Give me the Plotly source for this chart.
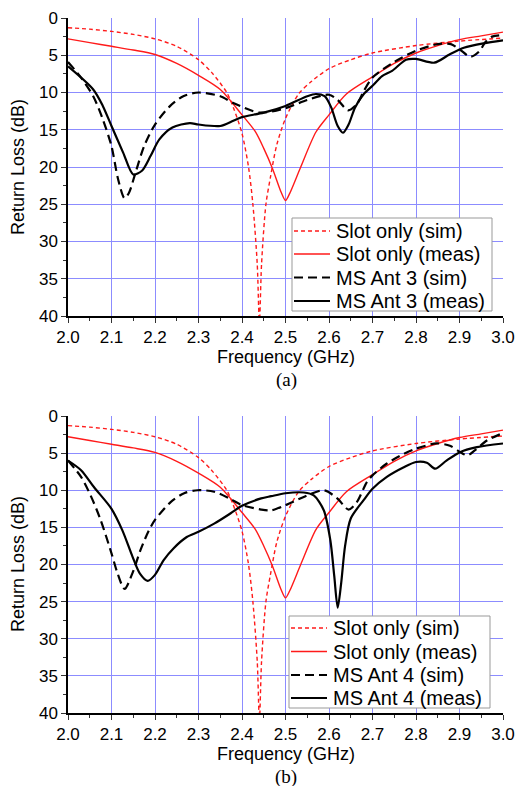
import plotly.graph_objects as go

# slot only curves (same in both panels)
f_slot_sim = [2.0, 2.05, 2.1, 2.15, 2.2, 2.25, 2.3, 2.33, 2.365, 2.38, 2.4, 2.415, 2.425, 2.435, 2.44,
              2.445, 2.455, 2.465, 2.48, 2.5, 2.53, 2.56, 2.6, 2.65, 2.7, 2.8, 2.9, 3.0]
rl_slot_sim = [1.3, 1.5, 1.8, 2.2, 2.8, 3.8, 5.6, 7.3, 10.0, 12.0, 15.5, 20, 25, 33, 41,
               33, 25, 21.5, 17, 13.5, 10.2, 8.5, 6.8, 5.6, 4.7, 3.7, 3.1, 2.7]

f_slot_meas = [2.0, 2.05, 2.1, 2.15, 2.2, 2.25, 2.3, 2.35, 2.4, 2.43, 2.45, 2.47, 2.49, 2.5, 2.51,
               2.535, 2.57, 2.6, 2.64, 2.7, 2.75, 2.8, 2.85, 2.9, 2.95, 3.0]
rl_slot_meas = [2.8, 3.3, 3.8, 4.3, 4.9, 6.1, 7.7, 9.6, 13.0, 15.2, 17.5, 20.2, 23.4, 24.5, 23.5,
                20, 15.3, 13.0, 10.2, 7.9, 6.1, 4.7, 3.7, 2.9, 2.4, 1.9]

# MS Ant 3
f_ant3_sim = [2.0, 2.03, 2.058, 2.08, 2.1, 2.115, 2.13, 2.14, 2.155, 2.175, 2.2, 2.235, 2.265, 2.3,
              2.35, 2.38, 2.44, 2.5, 2.55, 2.6, 2.62, 2.644, 2.665, 2.68, 2.7, 2.75, 2.8, 2.85,
              2.88, 2.9, 2.925, 2.945, 2.96, 2.975, 3.0]
rl_ant3_sim = [5.9, 8.0, 10.5, 13.6, 17.2, 21.6, 24.2, 23.5, 20.8, 17.2, 14.3, 11.8, 10.5, 10.0,
               10.5, 11.4, 12.7, 12.1, 11.0, 10.3, 11.0, 12.4, 11.5, 9.8, 8.0, 5.9, 4.4, 3.5,
               3.5, 4.2, 5.2, 4.5, 3.2, 2.5, 2.3]

f_ant3_meas = [2.0, 2.058, 2.08, 2.1, 2.127, 2.15, 2.17, 2.19, 2.21, 2.24, 2.28, 2.3, 2.35, 2.38,
               2.4, 2.45, 2.5, 2.55, 2.57, 2.59, 2.605, 2.62, 2.632, 2.645, 2.66, 2.68, 2.7, 2.722,
               2.745, 2.777, 2.8, 2.842, 2.877, 2.91, 2.955, 3.0]
rl_ant3_meas = [6.5, 9.6, 11.8, 14.5, 18.1, 21.0, 20.5, 18.5, 16.3, 14.7, 14.1, 14.3, 14.5, 13.8,
                13.3, 12.7, 11.8, 10.5, 10.2, 10.5, 12.0, 14.5, 15.4, 14.3, 12.0, 10.2, 9.1, 7.8,
                7.1, 5.6, 5.5, 6.0, 4.9, 4.0, 3.4, 3.0]

# MS Ant 4
f_ant4_sim = [2.0, 2.03, 2.052, 2.075, 2.1, 2.114, 2.13, 2.148, 2.167, 2.186, 2.2, 2.236, 2.267,
              2.298, 2.336, 2.374, 2.4, 2.444, 2.467, 2.5, 2.542, 2.588, 2.619, 2.645, 2.664,
              2.687, 2.7, 2.733, 2.772, 2.8, 2.847, 2.878, 2.9, 2.918, 2.936, 2.963, 3.0]
rl_ant4_sim = [6.0, 8.2, 10.7, 14.0, 18.5, 21.2, 23.3, 21.2, 18.0, 15.4, 14.0, 11.6, 10.4,
               10.0, 10.2, 11.2, 12.0, 12.6, 12.7, 12.0, 10.9, 10.0, 11.1, 12.6, 11.6,
               8.9, 8.0, 6.4, 5.1, 4.4, 3.7, 4.0, 4.8, 5.3, 4.6, 3.3, 2.3]

f_ant4_meas = [2.0, 2.03, 2.06, 2.1, 2.125, 2.148, 2.165, 2.183, 2.2, 2.22, 2.243, 2.273, 2.3,
               2.336, 2.374, 2.4, 2.444, 2.467, 2.5, 2.542, 2.565, 2.588, 2.603, 2.612, 2.62,
               2.628, 2.637, 2.65, 2.68, 2.7, 2.733, 2.772, 2.8, 2.825, 2.844, 2.87, 2.9, 2.94, 3.0]
rl_ant4_meas = [6.0, 7.3, 9.6, 12.5, 15.4, 18.9, 21.2, 22.2, 21.4, 19.4, 17.8, 16.3, 15.6,
                14.5, 13.1, 12.1, 11.1, 10.8, 10.4, 10.3, 10.7, 12.7, 16.7, 21.5, 25.8,
                22.5, 17.5, 13.8, 11.3, 9.8, 8.2, 6.9, 6.2, 6.3, 7.1, 6.0, 4.9, 4.2, 3.7]

panels = [
    ("MS Ant 3", f_ant3_sim, rl_ant3_sim, f_ant3_meas, rl_ant3_meas),
    ("MS Ant 4", f_ant4_sim, rl_ant4_sim, f_ant4_meas, rl_ant4_meas),
]

W, H = 516, 786
FONT = "Liberation Sans, Arial, sans-serif"
RED = "#ff1a1a"
BLUE_GRID = "#8c8cff"


def px(x):
    return x / W


def py(y):
    return 1 - y / H


fig = go.Figure()
legend_rows = []
for i, (ant, fs, rs, fm, rm) in enumerate(panels):
    xa = "x" if i == 0 else "x2"
    ya = "y" if i == 0 else "y2"
    series = [
        ("Slot only (sim)", f_slot_sim, rl_slot_sim, RED, 1.4, "4px,3px"),
        ("Slot only (meas)", f_slot_meas, rl_slot_meas, RED, 1.4, "solid"),
        (ant + " (sim)", fs, rs, "black", 2.2, "9px,5px"),
        (ant + " (meas)", fm, rm, "black", 2.2, "solid"),
    ]
    legend_rows.append(series)
    for name, x, y, col, w, dash in series:
        fig.add_trace(go.Scatter(
            x=x, y=y, name=name, mode="lines", showlegend=False,
            line=dict(color=col, width=w, dash=dash, shape="spline", smoothing=0.8),
            xaxis=xa, yaxis=ya,
        ))

axis_common = dict(
    showline=True, linecolor="black", linewidth=1.5,
    showgrid=True, gridcolor=BLUE_GRID, gridwidth=1,
    zeroline=False, ticks="outside", ticklen=5, tickwidth=1.2, tickcolor="#333",
    tickfont=dict(family=FONT, size=17, color="black"),
    automargin=False, ticklabeloverflow="allow",
)

x_dom = [px(68), px(503)]
y_doms = [[py(316), py(18)], [py(713), py(416)]]

for i in range(2):
    sfx = "" if i == 0 else "2"
    fig.update_layout(**{
        "xaxis" + sfx: dict(
            axis_common, domain=x_dom, range=[2.0, 3.0], dtick=0.1, tickformat=".1f",
            anchor="y" + sfx,
            minor=dict(dtick=0.05, ticks="outside", ticklen=3, tickcolor="#333", showgrid=False),
        ),
        "yaxis" + sfx: dict(
            axis_common, domain=y_doms[i], range=[40, 0], dtick=5, anchor="x" + sfx,
            minor=dict(dtick=2.5, ticks="outside", ticklen=3, tickcolor="#333", showgrid=False),
        ),
    })

# axis titles and captions placed by pixel position
title_font = dict(family=FONT, size=18, color="black")
for xt_y, yt_y, cap, cap_y in [(357, 167, "(a)", 380), (754, 564, "(b)", 777)]:
    fig.add_annotation(text="Frequency (GHz)", x=px(286), y=py(xt_y), xanchor="center", yanchor="middle",
                       xref="paper", yref="paper", showarrow=False, font=title_font)
    fig.add_annotation(text="Return Loss (dB)", x=px(18), y=py(yt_y), textangle=-90,
                       xanchor="center", yanchor="middle",
                       xref="paper", yref="paper", showarrow=False, font=title_font)
    fig.add_annotation(text=cap, x=px(286), y=py(cap_y), xanchor="center", yanchor="middle",
                       xref="paper", yref="paper", showarrow=False,
                       font=dict(family="Liberation Serif, Times New Roman, serif", size=19, color="black"))

# legend boxes drawn by hand to get the tight row spacing of the original
legend_boxes = [(292, 492, 218, 311, [231, 254, 277.5, 301]),
                (289, 490, 616, 708, [628, 651.5, 675, 698])]
for (x0, x1, y0, y1, rows), series in zip(legend_boxes, legend_rows):
    fig.add_shape(type="rect", xref="paper", yref="paper", layer="above",
                  x0=px(x0), x1=px(x1), y0=py(y1), y1=py(y0),
                  line=dict(color="#999", width=1), fillcolor="white")
    for ry, (name, _, _, col, w, dash) in zip(rows, series):
        fig.add_shape(type="line", xref="paper", yref="paper", layer="above",
                      x0=px(x0 + 2), x1=px(x0 + 38), y0=py(ry), y1=py(ry),
                      line=dict(color=col, width=w, dash=dash))
        fig.add_annotation(text=name, x=px(x0 + 42), y=py(ry), xanchor="left", yanchor="middle",
                           xref="paper", yref="paper", showarrow=False,
                           font=dict(family=FONT, size=20, color="black"))

fig.update_layout(
    width=W, height=H,
    margin=dict(l=0, r=0, t=0, b=0),
    paper_bgcolor="white", plot_bgcolor="white",
    showlegend=False,
)

# drop the browser's default page margin so the figure sits at the window origin
fig.write_html("out.html", config={"displayModeBar": False},
               post_script="document.body.style.margin='0';")
